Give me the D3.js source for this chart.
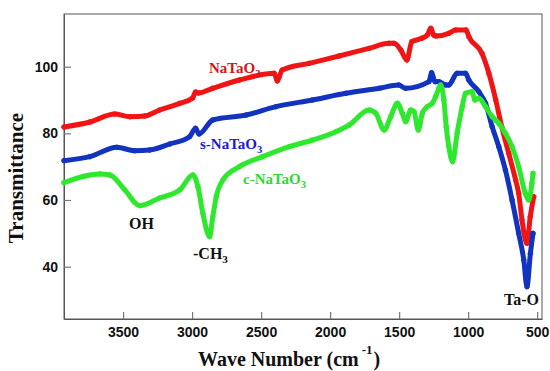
<!DOCTYPE html>
<html><head><meta charset="utf-8">
<script src="https://cdn.jsdelivr.net/npm/d3@7"></script>
<style>
html,body{margin:0;padding:0;background:#fff;}
svg{display:block;}
</style></head>
<body>
<svg id="chart" width="550" height="371"></svg>
<script>
// ---- data ----
const xTicks = [3500, 3000, 2500, 2000, 1500, 1000, 500];
const yTicks = [40, 60, 80, 100];

const redWn = [3928, 3740, 3560, 3450, 3343, 3235, 3090, 2996, 2975, 2955, 2852, 2657, 2405, 2383, 2347, 2152, 1935, 1718, 1574, 1537, 1488, 1444, 1408, 1336, 1296, 1270, 1250, 1233, 1140, 1090, 1015, 995, 900, 850, 800, 757, 706, 656, 634, 610, 574, 550, 525];
const redT  = [81.9, 83.4, 85.8, 85, 85.2, 87, 89, 90.6, 92.4, 92.1, 93.5, 96, 98, 95.7, 99, 101, 103.2, 105.5, 107, 107, 105, 102, 107.5, 108.5, 109.5, 111.5, 109.5, 109.2, 110, 111, 111, 109, 104, 98, 90, 82, 74, 66, 62, 54, 47, 55, 61];

const blueWn = [3928, 3740, 3545, 3415, 3307, 3162, 3018, 2975, 2950, 2850, 2608, 2392, 2129, 1886, 1645, 1503, 1453, 1284, 1265, 1240, 1212, 1163, 1140, 1080, 1019, 995, 923, 874, 826, 778, 730, 682, 634, 597, 574, 549, 530];
const blueT  = [71.8, 73, 75.8, 74.8, 75, 76.8, 79, 81.5, 79.8, 84, 85.5, 88, 90, 92, 93.5, 94.5, 93.5, 95.5, 98.2, 95.5, 95.5, 94.5, 94.5, 98, 98, 96, 92.5, 89, 82, 76, 69, 60, 50, 42, 34, 44, 50];

const greenWn = [3928, 3668, 3595, 3487, 3379, 3235, 3090, 2994, 2958, 2922, 2873, 2850, 2825, 2777, 2657, 2488, 2296, 2127, 1958, 1862, 1718, 1669, 1609, 1561, 1513, 1477, 1453, 1416, 1392, 1361, 1332, 1296, 1260, 1236, 1212, 1200, 1176, 1159, 1140, 1113, 1080, 1043, 1019, 971, 952, 923, 874, 826, 778, 730, 682, 634, 586, 562, 538, 530];
const greenT  = [65.2, 67.8, 67.5, 63, 58.3, 60.6, 63, 67.5, 64, 56, 49, 55, 61, 66, 70, 73, 76, 78, 80.5, 82.5, 87, 86, 81, 85, 89, 86, 83.5, 87, 86.5, 81, 86, 88, 89, 91, 93.5, 94.5, 90, 82, 76, 71.5, 80, 88, 92, 92.5, 90, 90.5, 88, 85, 83, 80, 76, 70, 62, 60, 65, 68];

const seriesNames = ["NaTaO", "s-NaTaO", "c-NaTaO"];

// ---- layout ----
const L = 64, R = 542, T = 14, B = 319;
const svg = d3.select("#chart");
const x = d3.scaleLinear().domain([3928, 465]).range([L, R]);
const y = d3.scaleLinear().domain([24.3, 115.8]).range([B, T]);

// frame
svg.append("rect").attr("x", L).attr("y", T).attr("width", R - L).attr("height", B - T)
  .attr("fill", "none").attr("stroke", "#555").attr("stroke-width", 1);

const xa = svg.append("g").attr("transform", `translate(0,${B})`)
  .call(d3.axisBottom(x).tickValues(xTicks).tickFormat(d3.format("d")).tickSizeInner(-7).tickSizeOuter(0).tickPadding(8));
const ya = svg.append("g").attr("transform", `translate(${L},0)`)
  .call(d3.axisLeft(y).tickValues(yTicks).tickFormat(d3.format("d")).tickSizeInner(-7).tickSizeOuter(0).tickPadding(6));
[xa, ya].forEach(g => {
  g.select(".domain").attr("stroke", "#555");
  g.selectAll(".tick line").attr("stroke", "#777").attr("stroke-width", 1.2);
  g.selectAll(".tick text").attr("font-family", "'Liberation Sans', Arial, sans-serif")
    .attr("font-weight", "bold").attr("font-size", 14).attr("fill", "#111");
});

// series
const series = [
  {wn: redWn, t: redT, color: "#f01414"},
  {wn: blueWn, t: blueT, color: "#1232c0"},
  {wn: greenWn, t: greenT, color: "#2ee82e"}
];
const line = d3.line().x(d => x(d[0])).y(d => y(d[1])).curve(d3.curveMonotoneX);
const plot = svg.append("g");
[0, 1, 2].forEach(i => {
  const s = series[i];
  const pts = s.wn.map((w, j) => [w, s.t[j]]);
  plot.append("path").datum(pts).attr("d", line).attr("fill", "none")
    .attr("stroke", s.color).attr("stroke-width", 5)
    .attr("stroke-linejoin", "round").attr("stroke-linecap", "round");
  plot.selectAll(null).data(pts).enter().append("circle")
    .attr("cx", d => x(d[0])).attr("cy", d => y(d[1])).attr("r", 2.3)
    .attr("fill", "none").attr("stroke", s.color).attr("stroke-width", 1);
});

// labels
const serif = "'Liberation Serif', 'Times New Roman', serif";
function sublabel(txt, sub, px, py, color, size) {
  const t = svg.append("text").attr("x", px).attr("y", py).attr("font-family", serif)
    .attr("font-weight", "bold").attr("font-size", size).attr("fill", color);
  t.append("tspan").text(txt);
  t.append("tspan").text(sub).attr("font-size", size * 0.7).attr("dy", 4);
}
sublabel(seriesNames[0], "3", 209, 73, "#d01818", 15);
sublabel(seriesNames[1], "3", 200, 149, "#1a1ad0", 15);
sublabel(seriesNames[2], "3", 243, 184, "#2ed82e", 15);

svg.append("text").attr("x", 129).attr("y", 229).attr("font-family", serif)
  .attr("font-weight", "bold").attr("font-size", 16).attr("fill", "#111").text("OH");
sublabel("-CH", "3", 193, 259, "#111", 16);
svg.append("text").attr("x", 504).attr("y", 305).attr("font-family", serif)
  .attr("font-weight", "bold").attr("font-size", 16).attr("fill", "#111").text("Ta-O");

// axis titles
svg.append("text").attr("transform", "translate(23,178) rotate(-90)").attr("text-anchor", "middle")
  .attr("font-family", serif).attr("font-weight", "bold").attr("font-size", 21).attr("fill", "#111")
  .text("Transmittance");
const xt = svg.append("text").attr("x", 198).attr("y", 366).attr("font-family", serif)
  .attr("font-weight", "bold").attr("font-size", 20).attr("fill", "#111");
xt.append("tspan").text("Wave Number (cm");
xt.append("tspan").text("-1").attr("font-size", 13).attr("dy", -12).attr("dx", 3);
xt.append("tspan").text(")").attr("dy", 12).attr("dx", 1);
</script>
</body></html>
